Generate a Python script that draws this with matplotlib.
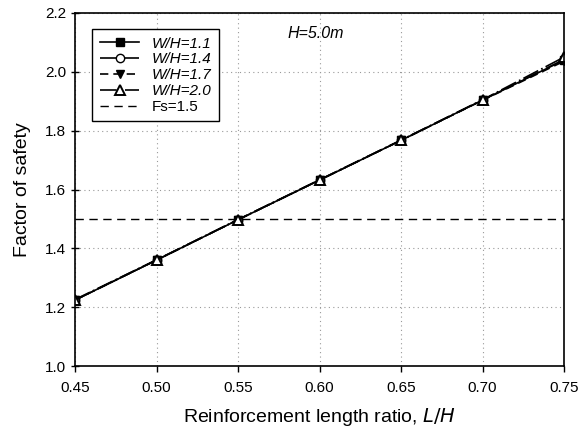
import matplotlib
matplotlib.use("Agg")
import matplotlib.pyplot as plt

plt.rcParams['font.family'] = ['Liberation Sans', 'DejaVu Sans']

ratio = [0.45, 0.50, 0.55, 0.60, 0.65, 0.70, 0.75]
fs_11 = [1.224, 1.360, 1.497, 1.632, 1.767, 1.904, 2.040]
fs_14 = [1.224, 1.360, 1.497, 1.632, 1.767, 1.904, 2.042]
fs_17 = [1.224, 1.360, 1.497, 1.632, 1.767, 1.903, 2.036]
fs_20 = [1.226, 1.361, 1.498, 1.633, 1.768, 1.905, 2.050]
fs_limit = 1.5

x_ticks = [0.45, 0.50, 0.55, 0.60, 0.65, 0.70, 0.75]
y_ticks = [1.0, 1.2, 1.4, 1.6, 1.8, 2.0, 2.2]

fig = plt.figure(figsize=(5.85, 4.32), dpi=100)
ax = fig.add_axes([75 / 585, 1 - 366 / 432, 489 / 585, 353 / 432])

ax.plot(ratio, fs_11, color='black', lw=1.2, ls='-', marker='s', ms=6,
        mfc='black', mec='black', label='W/H=1.1')
ax.plot(ratio, fs_14, color='black', lw=1.2, ls=(0, (10, 2, 1, 2)), marker='o', ms=6,
        mfc='white', mec='black', mew=1, label='W/H=1.4')
ax.plot(ratio, fs_17, color='black', lw=1.2, ls=(0, (5, 3)), marker='v', ms=6,
        mfc='black', mec='black', label='W/H=1.7')
ax.plot(ratio, fs_20, color='black', lw=1.2, ls=(0, (10, 2, 1, 2)), marker='^', ms=7,
        mfc='white', mec='black', mew=1.4, label='W/H=2.0')
ax.axhline(fs_limit, color='black', lw=1, ls=(0, (6, 4)), label='Fs=1.5')

ax.set_xlim(0.45, 0.75)
ax.set_ylim(1.0, 2.2)
ax.set_xticks(x_ticks)
ax.set_yticks(y_ticks)
ax.set_xticklabels([f'{v:.2f}' for v in x_ticks])
ax.set_yticklabels([f'{v:.1f}' for v in y_ticks])
ax.tick_params(direction='inout', length=6, width=1, labelsize=11, colors='black')
ax.tick_params(axis='x', direction='out', length=4, pad=7)
ax.grid(True, ls=(0, (1, 3)), color='#999999', lw=0.8)
for s in ax.spines.values():
    s.set_linewidth(1.2)

ax.set_xlabel('Reinforcement length ratio, $\\it{L/H}$', fontsize=14, labelpad=8)
ax.set_ylabel('Factor of safety', fontsize=14, labelpad=10)

ax.text(0.598, 2.13, 'H=5.0m', fontsize=11.5, style='italic', ha='center', va='center')

leg = ax.legend(loc='upper left', bbox_to_anchor=(0.035, 0.955), fontsize=11,
                frameon=True, fancybox=False, edgecolor='black', framealpha=1,
                handlelength=2.6, borderpad=0.5, labelspacing=0.12, handletextpad=0.8,
                borderaxespad=0)
leg.get_frame().set_linewidth(1)
for t in leg.get_texts()[:4]:
    t.set_fontstyle('italic')

fig.savefig('out.png', dpi=100)
